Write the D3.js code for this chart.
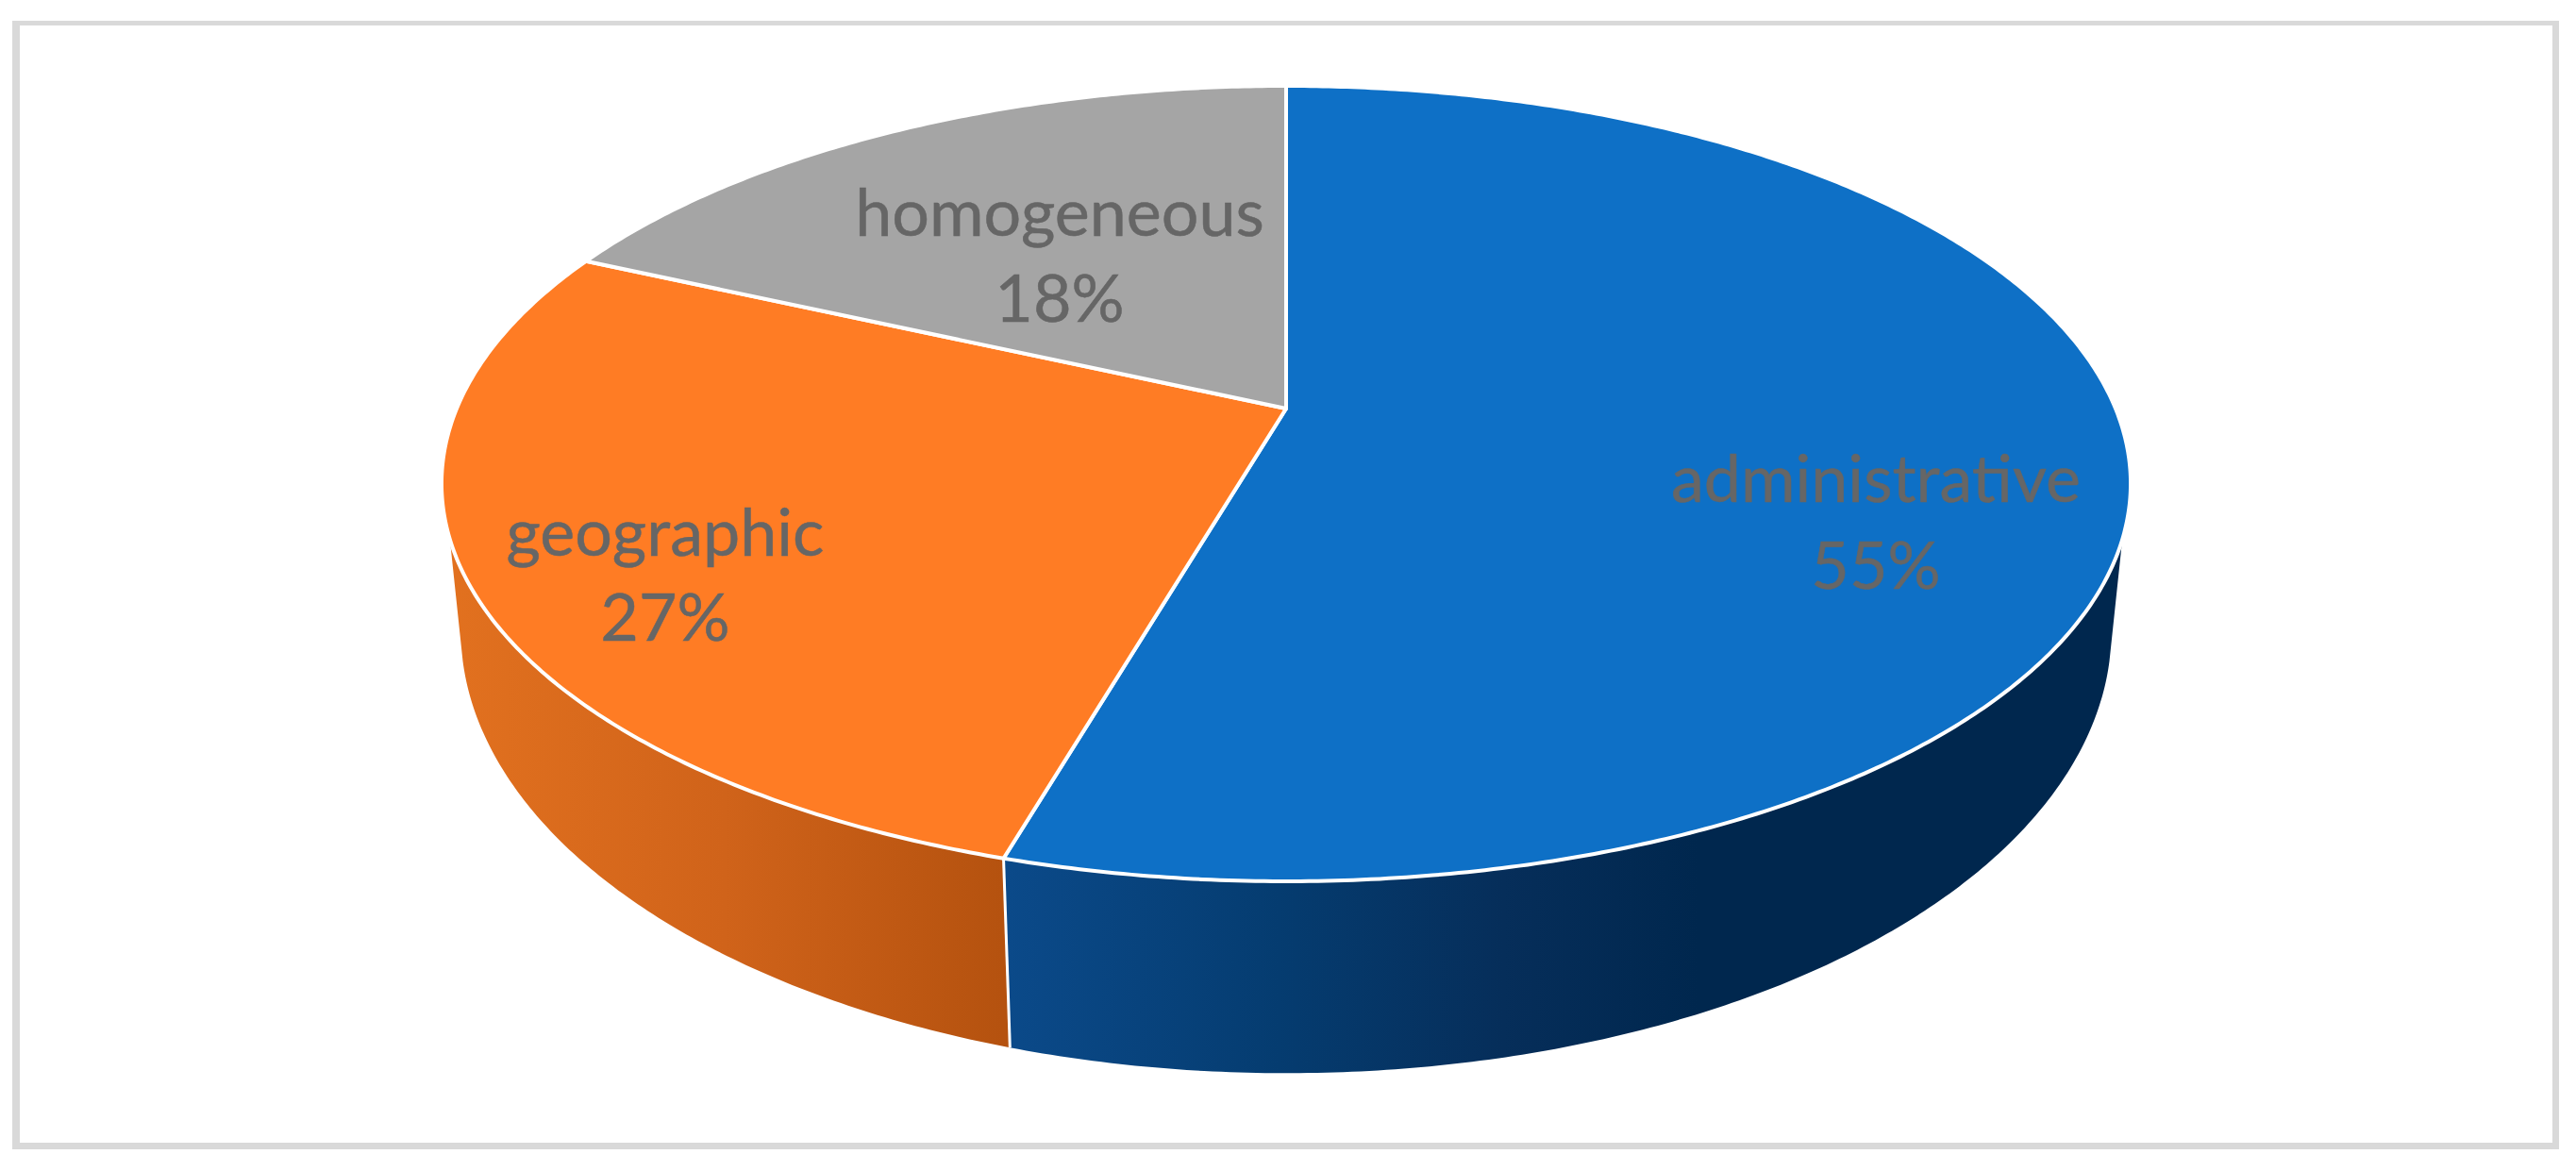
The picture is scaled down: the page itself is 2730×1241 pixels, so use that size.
<!DOCTYPE html>
<html>
<head>
<meta charset="utf-8">
<script src="https://cdnjs.cloudflare.com/ajax/libs/d3/7.8.5/d3.min.js"></script>
<style>html,body{margin:0;padding:0;background:#fff;overflow:hidden}svg{display:block}</style>
</head>
<body>
<svg id="chart" width="2730" height="1241"></svg>
<script>
// ---- data ----
const categories = ["administrative", "geographic", "homogeneous"];
const shares = [54.5, 27.3, 18.2];
const percentLabels = ["55%", "27%", "18%"];
const topColors = ["#0e70c6", "#ff7c24", "#a5a5a5"];

// ---- layout ----
const labelCentres = [[1988, 532, 624], [705, 589, 679], [1123, 250, 341]];
const k = 0.1886;                       // perspective foreshortening
const topPlane = {cx: 1363, cy: 433, a: 879, b: 406.5};
const botPlane = {cx: 1363, cy: 579, a: 859, b: 453};
const rad = d => d * Math.PI / 180;
const visibleTop = [rad(108.7), rad(251.3)];
const visibleBot = [rad(104.8), rad(255.2)];
const sideGradients = [
  {id: "sideBlue", x1: 1060, x2: 1800, stops: [[0, "#0b4a8a"], [0.4, "#053c70"], [0.72, "#062e5a"], [1, "#00274e"]]},
  {id: "sideOrange", x1: 473, x2: 1062, stops: [[0, "#e2711f"], [0.5, "#d0631a"], [1, "#b5520f"]]}
];

const svg = d3.select("#chart");
const project = (p, t) => {
  const X = Math.sin(t), Y = Math.cos(t), w = 1 + k * Y;
  return [p.cx + p.a * X / w, p.cy - p.b * Y / w];
};
const arcPts = (p, t0, t1) => {
  const n = Math.max(2, Math.ceil(Math.abs(t1 - t0) / rad(0.5)));
  return d3.range(n + 1).map(i => project(p, t0 + (t1 - t0) * i / n));
};
const line = d3.line();

// frame
svg.append("path")
  .attr("d", "M13,22H2712V1218H13Z M21,27V1211H2705V27Z")
  .attr("fill", "#d9d9d9").attr("fill-rule", "evenodd");

const defs = svg.append("defs");
sideGradients.forEach(g => {
  const lg = defs.append("linearGradient").attr("id", g.id)
    .attr("gradientUnits", "userSpaceOnUse")
    .attr("x1", g.x1).attr("x2", g.x2).attr("y1", 0).attr("y2", 0);
  g.stops.forEach(s => lg.append("stop").attr("offset", s[0]).attr("stop-color", s[1]));
});

const pie = d3.pie().sort(null).value(d => d)(shares);

// side walls (only slices reaching the front)
const walls = [
  {i: 0, grad: "sideBlue"},
  {i: 1, grad: "sideOrange"}
];
walls.forEach(w => {
  const s = pie[w.i];
  const t0 = Math.max(s.startAngle, visibleTop[0]), t1 = Math.min(s.endAngle, visibleTop[1]);
  const b0 = Math.max(s.startAngle, visibleBot[0]), b1 = Math.min(s.endAngle, visibleBot[1]);
  const pts = arcPts(topPlane, t0, t1).concat(arcPts(botPlane, b1, b0));
  svg.append("path").attr("d", line(pts) + "Z").attr("fill", `url(#${w.grad})`);
});
// seam between the walls
const seam = pie[0].endAngle;
svg.append("path").attr("d", line([project(topPlane, seam), project(botPlane, seam)]))
  .attr("stroke", "#fff").attr("stroke-width", 3).attr("fill", "none");

// top face
svg.selectAll("path.slice").data(pie).enter().append("path")
  .attr("class", "slice")
  .attr("d", d => line([[topPlane.cx, topPlane.cy]].concat(arcPts(topPlane, d.startAngle, d.endAngle))) + "Z")
  .attr("fill", (d, i) => topColors[i])
  .attr("stroke", "#fff").attr("stroke-width", 4).attr("stroke-linejoin", "round");

// labels
categories.forEach((c, i) => {
  const [x, y1, y2] = labelCentres[i];
  const g = svg.append("g").attr("font-family", "Lato, Carlito, sans-serif")
    .attr("font-size", 70).attr("fill", "#666666").attr("text-anchor", "middle")
    .attr("stroke", "#666666").attr("stroke-width", 0.5);
  g.append("text").attr("x", x).attr("y", y1).text(c);
  g.append("text").attr("x", x).attr("y", y2).text(percentLabels[i]);
});
</script>
</body>
</html>
